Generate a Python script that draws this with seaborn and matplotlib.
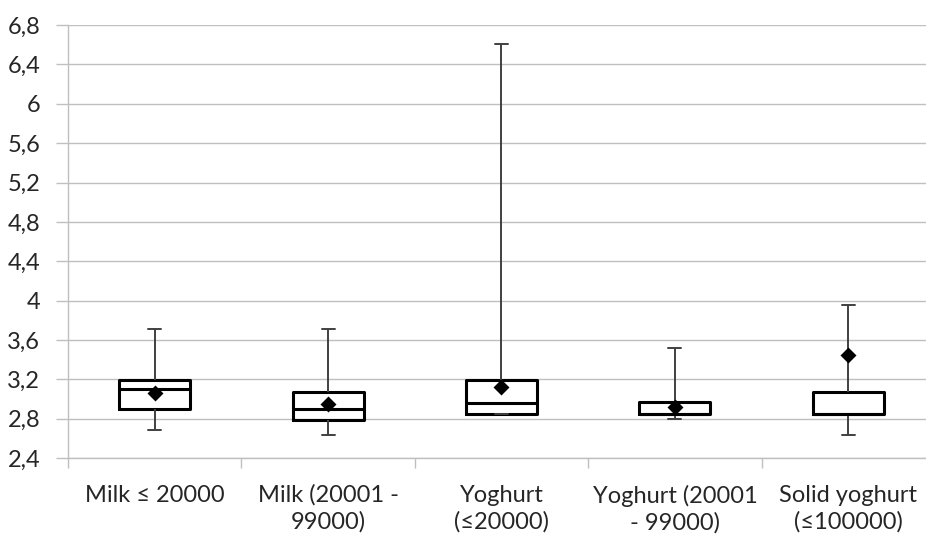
import numpy as np
import pandas as pd
import matplotlib
matplotlib.use("Agg")
import matplotlib.pyplot as plt
import seaborn as sns
from matplotlib.ticker import FuncFormatter

# five-number summaries
categories = ["Milk ≤ 20000", "Milk (20001 -\n99000)", "Yoghurt\n(≤20000)",
              "Yoghurt (20001\n- 99000)", "Solid yoghurt\n(≤100000)"]
whisker_low = [2.69, 2.635, 2.85, 2.80, 2.64]
q1 = [2.90, 2.79, 2.85, 2.85, 2.85]
median = [3.10, 2.90, 2.96, 2.85, 2.85]
q3 = [3.19, 3.07, 3.195, 2.97, 3.07]
whisker_high = [3.71, 3.71, 6.61, 3.515, 3.96]
means = [3.06, 2.95, 3.12, 2.92, 3.45]
y_ticks = [2.4, 2.8, 3.2, 3.6, 4.0, 4.4, 4.8, 5.2, 5.6, 6.0, 6.4, 6.8]

sns.set_theme(style="white")
plt.rcParams['font.family'] = ['Lato', 'DejaVu Sans']

rows = []
for i, cat in enumerate(categories):
    for v in (whisker_low[i], q1[i], median[i], q3[i], whisker_high[i]):
        rows.append({'group': cat, 'value': v})
df = pd.DataFrame(rows)
df_means = pd.DataFrame({'group': categories, 'mean': means})

fig = plt.figure(figsize=(9.26, 5.39), dpi=100)
ax = fig.add_axes([0.0734, 0.150, 1.0097 - 0.0734, 0.9536 - 0.150])

grid_col = '#bfbfbf'
sns.boxplot(data=df, x='group', y='value', order=categories, whis=(0, 100),
            width=0.41, fill=False, color='black', linecolor='black',
            linewidth=2.2, showfliers=False, capwidths=0.075,
            whiskerprops=dict(color='#404040', linewidth=1.4),
            capprops=dict(color='#404040', linewidth=1.4), ax=ax)
sns.pointplot(data=df_means, x='group', y='mean', order=categories,
              linestyle='none', marker='D', color='black', markersize=6.5,
              errorbar=None, ax=ax)

ax.set_xlim(-0.5, len(categories) - 0.5)
ax.set_ylim(2.4, 6.8)
ax.set_yticks(y_ticks)
ax.yaxis.set_major_formatter(FuncFormatter(lambda v, p: ('%g' % round(v, 2)).replace('.', ',')))
ax.set_xticks(range(len(categories)))
ax.set_xticklabels(categories, linespacing=1.3)
ax.set_xticks(np.arange(-0.5, len(categories), 1), minor=True)
ax.tick_params(axis='x', which='major', length=0, pad=19, labelsize=17, labelcolor='#262626')
ax.tick_params(axis='x', which='minor', length=7, width=1, color=grid_col, direction='out', bottom=True)
ax.tick_params(axis='y', length=9, width=1, color=grid_col, pad=11, labelsize=17,
               labelcolor='#262626', direction='out', left=True)
ax.set_xlabel('')
ax.set_ylabel('')

ax.yaxis.grid(True, color=grid_col, linewidth=1)
ax.set_axisbelow(True)
for side in ['top', 'right']:
    ax.spines[side].set_visible(False)
for side in ['left', 'bottom']:
    ax.spines[side].set_color(grid_col)
    ax.spines[side].set_linewidth(1)

fig.savefig('out.png', dpi=100)
